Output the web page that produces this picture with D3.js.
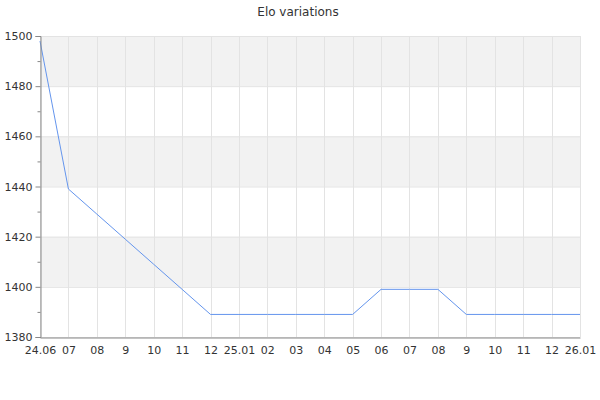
<!DOCTYPE html>
<html>
<head>
<meta charset="utf-8">
<script src="https://cdn.jsdelivr.net/npm/d3@7"></script>
<style>
  body { margin: 0; background: #fff; }
  text { font-family: "DejaVu Sans", sans-serif; fill: #333; }
</style>
</head>
<body>
<div id="chart"></div>
<script>
// x categories (month ticks) and elo values
var labels = ["24.06", "07", "08", "9", "10", "11", "12", "25.01", "02", "03",
              "04", "05", "06", "07", "08", "9", "10", "11", "12", "26.01"];
var elo = [1498, 1439, 1429, 1419, 1409, 1399, 1389, 1389, 1389, 1389,
           1389, 1389, 1399, 1399, 1399, 1389, 1389, 1389, 1389, 1389];
var yTicks = [1380, 1400, 1420, 1440, 1460, 1480, 1500];
var yMinor = [1390, 1410, 1430, 1450, 1470, 1490];

var margin = {top: 36, right: 20, bottom: 63, left: 40},
    width = 600 - margin.left - margin.right,
    height = 400 - margin.top - margin.bottom;

var svg = d3.select("#chart")
  .append("svg")
    .attr("width", 600)
    .attr("height", 400)
  .append("g")
    .attr("transform", "translate(" + margin.left + "," + margin.top + ")");

var idx = d3.range(labels.length);
var x = d3.scalePoint()
    .domain(idx)
    .range([0, width]);

var y = d3.scaleLinear()
    .domain([1380, 1500])
    .range([height, 0]);

// alternating bands
var bands = [[1400, 1420], [1440, 1460], [1480, 1500]];
svg.selectAll(".band")
  .data(bands)
  .enter()
  .append("rect")
    .attr("x", 0)
    .attr("width", width)
    .attr("y", function(d) { return y(d[1]); })
    .attr("height", function(d) { return y(d[0]) - y(d[1]); })
    .style("fill", "#f2f2f2");

// grid
svg.selectAll(".hgrid")
  .data(yTicks)
  .enter()
  .append("line")
    .attr("x1", 0).attr("x2", width)
    .attr("y1", function(d) { return y(d) + 0.5; })
    .attr("y2", function(d) { return y(d) + 0.5; })
    .style("stroke", "#e3e3e3");

svg.selectAll(".vgrid")
  .data(idx)
  .enter()
  .append("line")
    .attr("x1", function(d) { return Math.round(x(d)) + 0.5; })
    .attr("x2", function(d) { return Math.round(x(d)) + 0.5; })
    .attr("y1", 0).attr("y2", height)
    .style("stroke", "#e3e3e3");

// line
var line = d3.line()
    .x(function(d, i) { return x(i); })
    .y(function(d) { return y(d); });

svg.append("path")
    .datum(elo)
    .attr("d", line)
    .style("fill", "none")
    .style("stroke", "#6495ed")
    .style("stroke-width", 1);

// y axis
var yAxis = svg.append("g")
    .attr("transform", "translate(0.5,0)")
    .call(d3.axisLeft(y).tickValues(yTicks).tickFormat(d3.format("d")).tickSize(5).tickPadding(3));
yAxis.selectAll("text").style("font-size", "11px");
yAxis.select(".domain").style("stroke", "#888");
yAxis.selectAll(".tick line").style("stroke", "#888");

svg.append("g")
    .attr("transform", "translate(0.5,0)")
    .call(d3.axisLeft(y).tickValues(yMinor).tickSize(3).tickFormat(""))
    .call(function(g) { g.select(".domain").remove(); })
    .selectAll(".tick line").style("stroke", "#888");

// x axis
var xAxis = svg.append("g")
    .attr("transform", "translate(0," + (height + 0.5) + ")")
    .call(d3.axisBottom(x).tickSize(0).tickPadding(9).tickFormat(function(d) { return labels[d]; }));
xAxis.selectAll("text").style("font-size", "11px");
xAxis.select(".domain").style("stroke", "#888");

// title
svg.append("text")
    .attr("x", 258)
    .attr("y", -20)
    .attr("text-anchor", "middle")
    .attr("font-size", "12px")
    .text("Elo variations");
</script>
</body>
</html>
